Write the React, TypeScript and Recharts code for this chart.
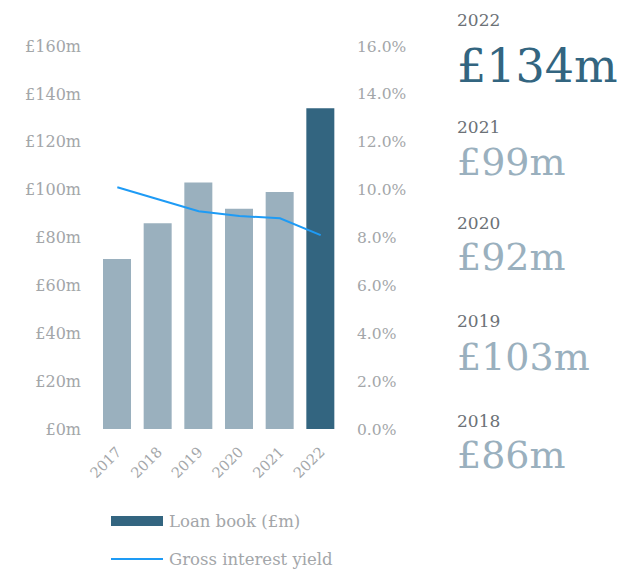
import React from 'react';
import { ComposedChart, Bar, Line, XAxis, YAxis, Cell, Legend } from 'recharts';

const years = ['2017', '2018', '2019', '2020', '2021', '2022'];
const loanBook = [71, 86, 103, 92, 99, 134];
const grossYield = [10.1, 9.6, 9.1, 8.9, 8.8, 8.1];
const leftTicks = [0, 20, 40, 60, 80, 100, 120, 140, 160];
const rightTicks = [0, 2, 4, 6, 8, 10, 12, 14, 16];
const panelYears = ['2022', '2021', '2020', '2019', '2018'];
const panelValues = ['£134m', '£99m', '£92m', '£103m', '£86m'];

const data = years.map((y, i) => ({ year: y, loan: loanBook[i], yield: grossYield[i] }));

const FONT = '"DejaVu Serif", "Liberation Serif", serif';
const GREY = '#a3a6a9';
const LIGHT = '#9ab0be';
const DARK = '#336580';
const LINE = '#1e9bf5';

const XTick = (props: any) => {
  const { x, y, payload } = props;
  const ax = x + 5;
  const ay = y;
  return (
    <text
      x={ax}
      y={ay}
      transform={`rotate(-45, ${ax}, ${ay})`}
      textAnchor="end"
      fill={GREY}
      fontSize={14.5}
      fontFamily={FONT}
    >
      {payload.value}
    </text>
  );
};

const LegendContent = () => (
  <div style={{ fontFamily: FONT, fontSize: 16.5, color: GREY }}>
    <div style={{ display: 'flex', alignItems: 'center', height: 20 }}>
      <div style={{ width: 52, height: 10, background: DARK, marginRight: 6 }} />
      <span>Loan book (£m)</span>
    </div>
    <div style={{ display: 'flex', alignItems: 'center', height: 20, marginTop: 18 }}>
      <div style={{ width: 52, height: 2, background: LINE, marginRight: 6 }} />
      <span>Gross interest yield</span>
    </div>
  </div>
);

const yearBaselines = [26, 133, 229, 327, 427];
const valueBaselines = [82, 175, 270, 370, 468];

export default function App() {
  return (
    <div style={{ position: 'absolute', left: 0, top: 0, width: 620, height: 569, background: '#fff' }}>
      <ComposedChart
        width={440}
        height={569}
        data={data}
        margin={{ top: 46, right: 19, bottom: 80, left: 0 }}
      >
        <XAxis
          dataKey="year"
          axisLine={false}
          tickLine={false}
          tickSize={0}
          tickMargin={24}
          height={60}
          interval={0}
          tick={<XTick />}
        />
        <YAxis
          yAxisId="left"
          orientation="left"
          width={97}
          domain={[0, 160]}
          ticks={leftTicks}
          axisLine={false}
          tickLine={false}
          tickSize={0}
          tickMargin={16}
          tickFormatter={(v: number) => `£${v}m`}
          tick={{ fill: GREY, fontSize: 16, fontFamily: FONT }}
        />
        <YAxis
          yAxisId="right"
          orientation="right"
          width={80}
          domain={[0, 16]}
          ticks={rightTicks}
          axisLine={false}
          tickLine={false}
          tickSize={0}
          tickMargin={16}
          tickFormatter={(v: number) => `${v.toFixed(1)}%`}
          tick={{ fill: GREY, fontSize: 15.5, fontFamily: FONT, textAnchor: 'start' }}
        />
        <Legend
          layout="horizontal"
          verticalAlign="middle"
          align="center"
          content={<LegendContent />}
          wrapperStyle={{ left: 111, top: 511, width: 300, height: 60 }}
        />
        <Bar yAxisId="left" dataKey="loan" barSize={28} isAnimationActive={false}>
          {data.map((d, i) => (
            <Cell key={d.year} fill={i === data.length - 1 ? DARK : LIGHT} />
          ))}
        </Bar>
        <Line
          yAxisId="right"
          dataKey="yield"
          type="linear"
          stroke={LINE}
          strokeWidth={2}
          dot={false}
          activeDot={false}
          isAnimationActive={false}
        />
      </ComposedChart>
      <svg width={180} height={569} style={{ position: 'absolute', left: 440, top: 0 }}>
        {panelYears.map((y, i) => (
          <g key={y}>
            <text x={17} y={yearBaselines[i]} fill="#6c7176" fontSize={17} fontFamily={FONT}>
              {y}
            </text>
            <text
              x={17}
              y={valueBaselines[i]}
              fill={i === 0 ? DARK : LIGHT}
              fontSize={i === 0 ? 46 : 38}
              fontFamily={FONT}
            >
              {panelValues[i]}
            </text>
          </g>
        ))}
      </svg>
    </div>
  );
}
